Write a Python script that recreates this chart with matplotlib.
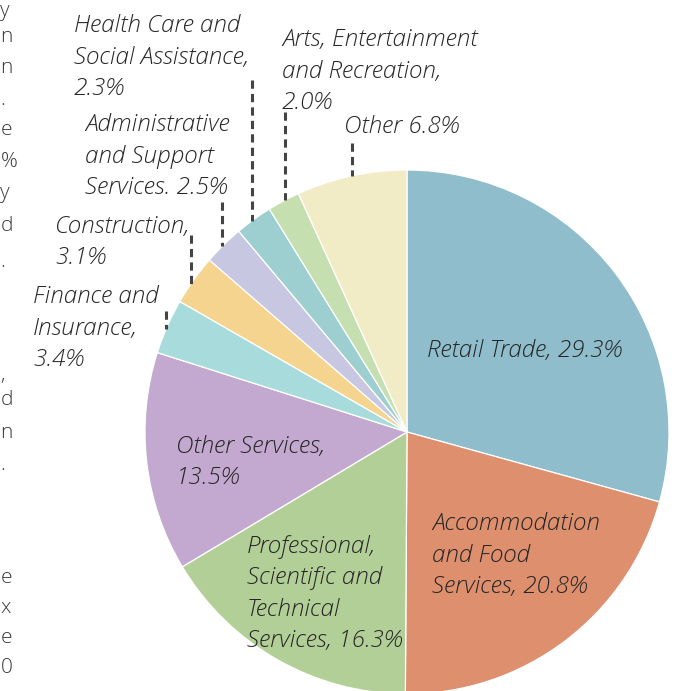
import numpy as np
import matplotlib
matplotlib.use("Agg")
import matplotlib.pyplot as plt

W, H = 680, 691

sectors = [
    "Retail Trade", "Accommodation and Food Services",
    "Professional, Scientific and Technical Services", "Other Services",
    "Finance and Insurance", "Construction", "Administrative and Support Services",
    "Health Care and Social Assistance", "Arts, Entertainment and Recreation", "Other",
]
shares = [29.3, 20.8, 16.3, 13.5, 3.4, 3.1, 2.5, 2.3, 2.0, 6.8]
colors = [
    "#8fbdcc", "#de8f6e", "#b3cf98", "#c3a8cf", "#a8dcdc",
    "#f4d48e", "#c8c7e2", "#9ecfd0", "#c5dfb0", "#f1ecc6",
]
label_text = [
    "Retail Trade, 29.3%",
    "Accommodation\nand Food\nServices, 20.8%",
    "Professional,\nScientific and\nTechnical\nServices, 16.3%",
    "Other Services,\n13.5%",
    "Finance and\nInsurance,\n3.4%",
    "Construction,\n3.1%",
    "Administrative\nand Support\nServices. 2.5%",
    "Health Care and\nSocial Assistance,\n2.3%",
    "Arts, Entertainment\nand Recreation,\n2.0%",
    "Other 6.8%",
]
# left edge and first baseline of each label, pixels from the top
label_pos = [
    (427, 357), (432, 529), (247, 551), (176, 452), (33, 302),
    (55, 232), (85, 130), (74, 31), (282, 45), (344, 133),
]
LINE_H = 32  # baseline-to-baseline, pixels

# dashed leaders for the small slices: x position and top end
leaders = {4: (166, 311), 5: (191, 235), 6: (222, 202),
           7: (252, 80), 8: (285, 112), 9: (352, 143)}

# clipped characters from the neighbouring text column
margin_chars = ["y", "n", "n", ".", "e", "%", "y", "d", ".",
                ",", "d", "n", ".", "e", "x", "e", "0"]
margin_y = [11, 37, 68, 100, 130, 162, 193, 226, 262,
            375, 400, 433, 465, 578, 608, 638, 668]

cx, cy, r = 407, H - 432, 262

fig = plt.figure(figsize=(W / 100, H / 100), dpi=100)
ax = fig.add_axes([0, 0, 1, 1])

ax.pie(shares, colors=colors, startangle=90, counterclock=False,
       center=(cx, cy), radius=r, frame=True,
       wedgeprops=dict(edgecolor="white", linewidth=0.9))
ax.set_xlim(0, W)
ax.set_ylim(0, H)
ax.set_aspect("equal")
ax.axis("off")

font = dict(family="Open Sans", style="italic", weight=300,
            fontsize=17.5, color="#262626", linespacing=1.41)

for txt, (x, y) in zip(label_text, label_pos):
    # va="baseline" pins the last line, so shift down by the extra lines
    y_last = y + LINE_H * txt.count("\n")
    ax.text(x, H - y_last, txt, ha="left", va="baseline", zorder=5, **font)

for i, (x, y_top) in leaders.items():
    y_end = cy + np.sqrt(r ** 2 - (x - cx) ** 2)
    ax.plot([x, x], [H - y_top, y_end], color="#444444", lw=2.2,
            linestyle=(0, (2.7, 1.7)), solid_capstyle="butt")

for ch, y in zip(margin_chars, margin_y):
    ax.text(0.5, H - y, ch, ha="left", va="center", family="Open Sans",
            weight=300, fontsize=15, color="#3a3a3a")

fig.savefig("out.png", dpi=100)
